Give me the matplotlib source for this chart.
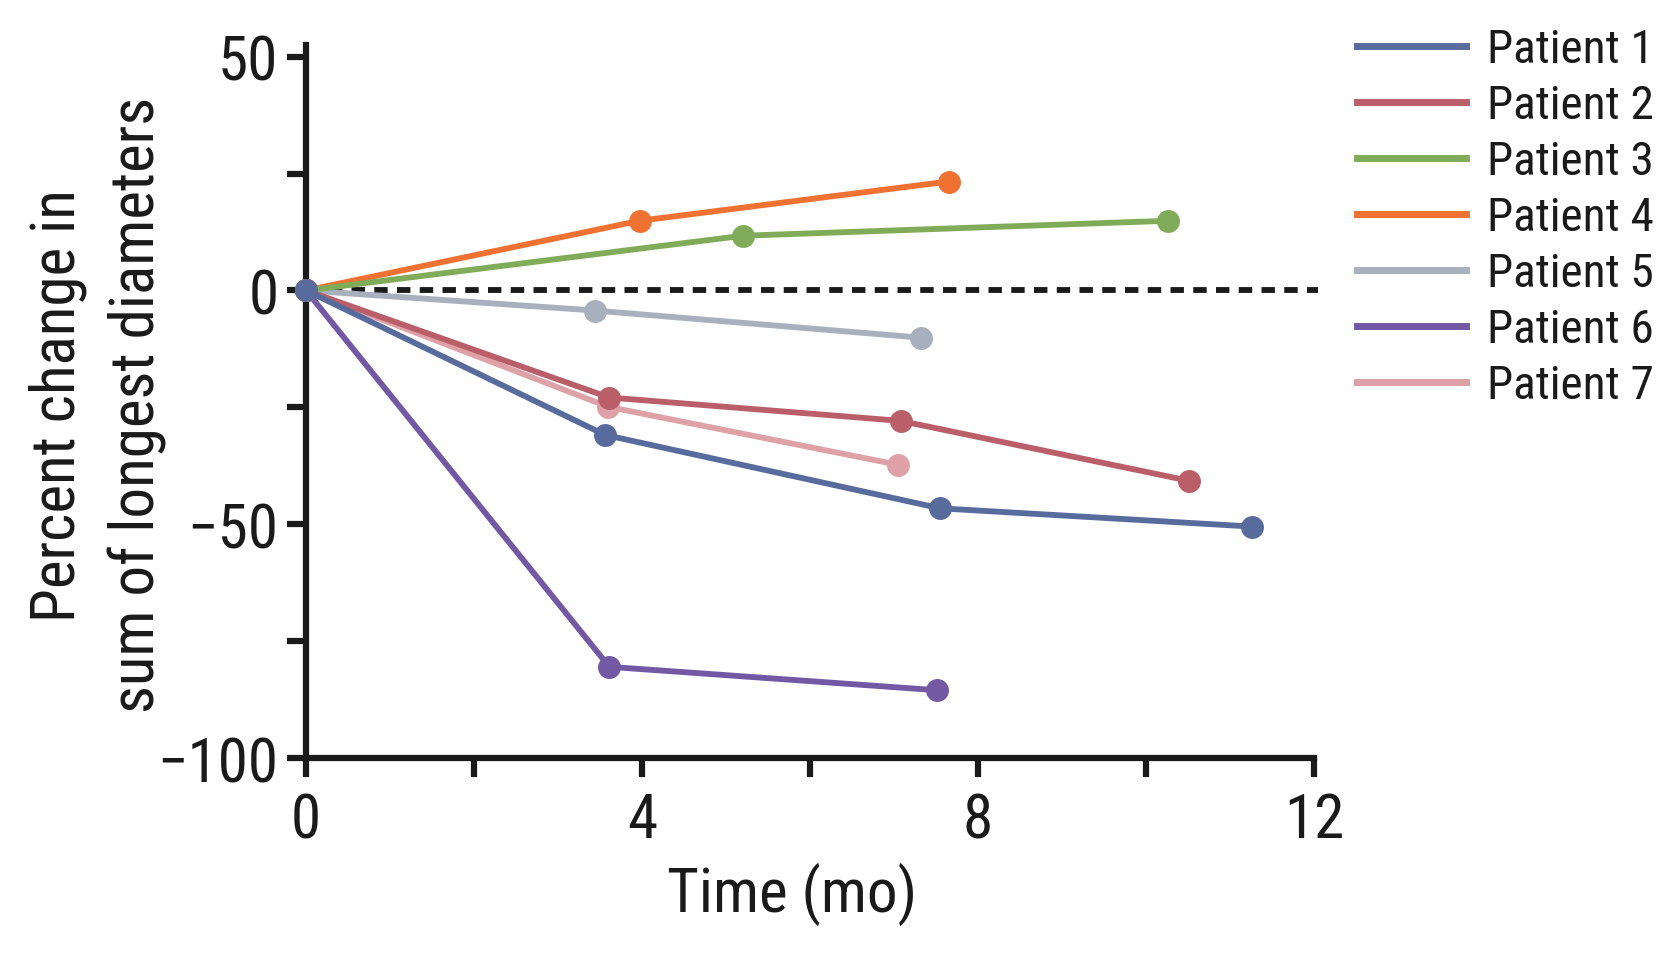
import matplotlib.pyplot as plt
from matplotlib.lines import Line2D

plt.rcParams['font.family'] = ['Roboto Condensed', 'Liberation Sans Narrow', 'DejaVu Sans']
plt.rcParams['font.stretch'] = 'condensed'

patients = ["Patient 1", "Patient 2", "Patient 3", "Patient 4", "Patient 5", "Patient 6", "Patient 7"]
colors = ["#586b9d", "#ba5f6a", "#80ac5a", "#f07232", "#a7b0bc", "#7359a4", "#dea1a7"]

months = [
    [0, 3.56, 7.55, 11.26],
    [0, 3.61, 7.08, 10.51],
    [0, 5.20, 10.26],
    [0, 3.97, 7.65],
    [0, 3.44, 7.32],
    [0, 3.61, 7.51],
    [0, 3.60, 7.05],
]
pct_change = [
    [0, -30.9, -46.6, -50.5],
    [0, -22.9, -27.9, -40.7],
    [0, 11.7, 14.9],
    [0, 14.9, 23.3],
    [0, -4.3, -10.1],
    [0, -80.5, -85.5],
    [0, -24.9, -37.3],
]

fig = plt.figure(figsize=(16.79, 9.54), dpi=100)
ax = fig.add_axes([0.1823, 0.2044, 0.6003, 0.7474])

# dotted reference line at 0 %
ax.plot([0, 12.05], [0, 0], color="#1a1a1a", lw=4.2, linestyle=(0, (2.3, 1.6)),
        clip_on=False, zorder=1)

for i in reversed(range(len(patients))):
    ax.plot(months[i], pct_change[i], color=colors[i], lw=4.2, marker="o",
            markersize=15.5, clip_on=False, zorder=2 + (len(patients) - i))

ax.set_xlim(0, 12)
ax.set_ylim(-100, 52.5)
ax.set_xticks([0, 2, 4, 6, 8, 10, 12])
ax.set_xticklabels(["0", "", "4", "", "8", "", "12"])
ax.set_yticks([-100, -75, -50, -25, 0, 25, 50])
ax.set_yticklabels(["\u2212100", "", "\u221250", "", "0", "", "50"])

for side in ["top", "right"]:
    ax.spines[side].set_visible(False)
for side in ["left", "bottom"]:
    ax.spines[side].set_linewidth(4.5)
    ax.spines[side].set_color("#1a1a1a")
ax.spines["bottom"].set_bounds(0, 12)

ax.tick_params(axis="both", direction="out", length=14, width=4.5, color="#1a1a1a",
               labelsize=44, labelcolor="#1a1a1a", pad=6)
ax.tick_params(axis="x", pad=10)

ax.set_xlabel("Time (mo)", fontsize=44, color="#1a1a1a")
ax.xaxis.set_label_coords(0.482, -0.145)
ax.set_ylabel("Percent change in\nsum of longest diameters", fontsize=44,
              color="#1a1a1a", linespacing=1.45)
ax.yaxis.set_label_coords(-0.138, 0.496)

handles = [Line2D([0], [0], color=c, lw=5) for c in colors]
fig.legend(handles, patients, loc="upper left", bbox_to_anchor=(0.783, 1.015),
           frameon=False, fontsize=34, handlelength=2.3, handletextpad=0.45,
           labelspacing=0.255, labelcolor="#1a1a1a")

fig.savefig("out.png", dpi=100)
